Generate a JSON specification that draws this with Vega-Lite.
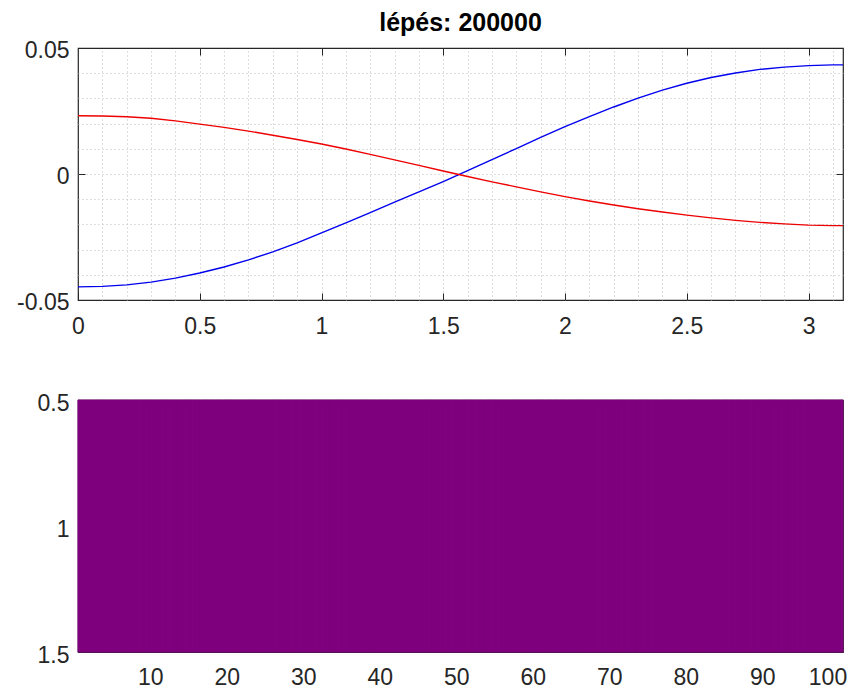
{
  "$schema": "https://vega.github.io/schema/vega-lite/v6.json",
  "background": "white",
  "padding": {"left": 15, "top": 10, "right": 0, "bottom": 0},
  "spacing": 100,
  "bounds": "flush",
  "config": {
    "font": "Liberation Sans",
    "view": {"stroke": "#262626", "strokeWidth": 1.2},
    "axis": {
      "labelFont": "Liberation Sans",
      "labelFontSize": 23,
      "labelColor": "#262626",
      "tickColor": "#262626",
      "tickWidth": 1,
      "domain": false,
      "grid": false
    }
  },
  "vconcat": [
    {
      "width": 765,
      "height": 252,
      "title": {
        "text": "lépés: 200000",
        "font": "Liberation Sans",
        "fontSize": 25,
        "fontWeight": "bold",
        "color": "#000000",
        "anchor": "middle",
        "baseline": "alphabetic",
        "offset": -17
      },
      "data": {
        "values": [
          {"x": 0, "a": -0.0448, "b": 0.0231},
          {"x": 0.1, "a": -0.0446, "b": 0.0230},
          {"x": 0.2, "a": -0.0440, "b": 0.0227},
          {"x": 0.3, "a": -0.0429, "b": 0.0221},
          {"x": 0.4, "a": -0.0413, "b": 0.0211},
          {"x": 0.5, "a": -0.0393, "b": 0.0198},
          {"x": 0.6, "a": -0.0369, "b": 0.0185},
          {"x": 0.7, "a": -0.0341, "b": 0.0170},
          {"x": 0.8, "a": -0.0309, "b": 0.0154},
          {"x": 0.9, "a": -0.0273, "b": 0.0137},
          {"x": 1.0, "a": -0.0234, "b": 0.0119},
          {"x": 1.1, "a": -0.0194, "b": 0.0099},
          {"x": 1.2, "a": -0.0153, "b": 0.0078},
          {"x": 1.3, "a": -0.0112, "b": 0.0056},
          {"x": 1.4, "a": -0.0071, "b": 0.0034},
          {"x": 1.5, "a": -0.0030, "b": 0.0012},
          {"x": 1.6, "a": 0.0013, "b": -0.0010},
          {"x": 1.7, "a": 0.0057, "b": -0.0031},
          {"x": 1.8, "a": 0.0101, "b": -0.0051},
          {"x": 1.9, "a": 0.0145, "b": -0.0071},
          {"x": 2.0, "a": 0.0188, "b": -0.0090},
          {"x": 2.1, "a": 0.0228, "b": -0.0107},
          {"x": 2.2, "a": 0.0266, "b": -0.0123},
          {"x": 2.3, "a": 0.0301, "b": -0.0138},
          {"x": 2.4, "a": 0.0333, "b": -0.0151},
          {"x": 2.5, "a": 0.0360, "b": -0.0163},
          {"x": 2.6, "a": 0.0383, "b": -0.0174},
          {"x": 2.7, "a": 0.0401, "b": -0.0184},
          {"x": 2.8, "a": 0.0415, "b": -0.0192},
          {"x": 2.9, "a": 0.0424, "b": -0.0198},
          {"x": 3.0, "a": 0.0430, "b": -0.0203},
          {"x": 3.1, "a": 0.0433, "b": -0.0205},
          {"x": 3.1416, "a": 0.0433, "b": -0.0205}
        ]
      },
      "transform": [{"fold": ["a", "b"], "as": ["series", "y"]}],
      "resolve": {"axis": {"x": "independent", "y": "independent"}},
      "layer": [
        {
          "mark": {"type": "line", "opacity": 0},
          "encoding": {
            "x": {
              "field": "x", "type": "quantitative",
              "scale": {"domain": [0, 3.1416], "nice": false, "zero": false},
              "axis": {
                "orient": "top", "title": null, "labels": false, "ticks": false, "domain": false,
                "minExtent": 0, "maxExtent": 0,
                "grid": true, "gridColor": "#bdbdbd", "gridDash": [1, 3], "gridWidth": 1,
                "values": [0.1, 0.2, 0.3, 0.4, 0.5, 0.6, 0.7, 0.8, 0.9, 1.0, 1.1, 1.2, 1.3, 1.4, 1.5, 1.6, 1.7, 1.8, 1.9, 2.0, 2.1, 2.2, 2.3, 2.4, 2.5, 2.6, 2.7, 2.8, 2.9, 3.0, 3.1]
              }
            },
            "y": {
              "field": "y", "type": "quantitative",
              "scale": {"domain": [-0.05, 0.05], "nice": false, "zero": false},
              "axis": {
                "orient": "right", "title": null, "labels": false, "ticks": false, "domain": false,
                "minExtent": 0, "maxExtent": 0,
                "grid": true, "gridColor": "#bdbdbd", "gridDash": [1, 3], "gridWidth": 1,
                "values": [-0.04, -0.03, -0.02, -0.01, 0, 0.01, 0.02, 0.03, 0.04]
              }
            },
            "detail": {"field": "series"}
          }
        },
        {
          "mark": {"type": "line", "opacity": 0},
          "encoding": {
            "x": {
              "field": "x", "type": "quantitative",
              "axis": {
                "orient": "top", "title": null, "labels": false, "domain": false,
                "minExtent": 0, "maxExtent": 0, "grid": false,
                "tickSize": -7, "values": [0.5, 1, 1.5, 2, 2.5, 3]
              }
            },
            "y": {
              "field": "y", "type": "quantitative",
              "axis": {
                "orient": "right", "title": null, "labels": false, "domain": false,
                "minExtent": 0, "maxExtent": 0, "grid": false,
                "tickSize": -7, "values": [0]
              }
            },
            "detail": {"field": "series"}
          }
        },
        {
          "mark": {"type": "line", "strokeWidth": 1.4},
          "encoding": {
            "x": {
              "field": "x", "type": "quantitative",
              "axis": {
                "orient": "bottom", "title": null, "values": [0, 0.5, 1, 1.5, 2, 2.5, 3],
                "labelExpr": "'' + datum.value", "tickSize": -7, "labelPadding": 22,
                "labelFlush": false
              }
            },
            "y": {
              "field": "y", "type": "quantitative",
              "axis": {
                "orient": "left", "title": null, "values": [-0.05, 0, 0.05],
                "labelExpr": "datum.value < 0 ? '-0.05' : (datum.value > 0 ? '0.05' : '0')",
                "tickSize": -7, "labelPadding": 16, "labelFlush": false, "labelOffset": 2
              }
            },
            "color": {
              "field": "series", "type": "nominal",
              "scale": {"domain": ["a", "b"], "range": ["#0000ee", "#ee0000"]},
              "legend": null
            }
          }
        }
      ]
    },
    {
      "width": 765,
      "height": 252,
      "data": {
        "values": [
          {"c": 1, "v": 1}, {"c": 2, "v": 1}, {"c": 3, "v": 1}, {"c": 4, "v": 1}, {"c": 5, "v": 1},
          {"c": 6, "v": 1}, {"c": 7, "v": 1}, {"c": 8, "v": 1}, {"c": 9, "v": 1}, {"c": 10, "v": 1},
          {"c": 11, "v": 1}, {"c": 12, "v": 1}, {"c": 13, "v": 1}, {"c": 14, "v": 1}, {"c": 15, "v": 1},
          {"c": 16, "v": 1}, {"c": 17, "v": 1}, {"c": 18, "v": 1}, {"c": 19, "v": 1}, {"c": 20, "v": 1},
          {"c": 21, "v": 1}, {"c": 22, "v": 1}, {"c": 23, "v": 1}, {"c": 24, "v": 1}, {"c": 25, "v": 1},
          {"c": 26, "v": 1}, {"c": 27, "v": 1}, {"c": 28, "v": 1}, {"c": 29, "v": 1}, {"c": 30, "v": 1},
          {"c": 31, "v": 1}, {"c": 32, "v": 1}, {"c": 33, "v": 1}, {"c": 34, "v": 1}, {"c": 35, "v": 1},
          {"c": 36, "v": 1}, {"c": 37, "v": 1}, {"c": 38, "v": 1}, {"c": 39, "v": 1}, {"c": 40, "v": 1},
          {"c": 41, "v": 1}, {"c": 42, "v": 1}, {"c": 43, "v": 1}, {"c": 44, "v": 1}, {"c": 45, "v": 1},
          {"c": 46, "v": 1}, {"c": 47, "v": 1}, {"c": 48, "v": 1}, {"c": 49, "v": 1}, {"c": 50, "v": 1},
          {"c": 51, "v": 1}, {"c": 52, "v": 1}, {"c": 53, "v": 1}, {"c": 54, "v": 1}, {"c": 55, "v": 1},
          {"c": 56, "v": 1}, {"c": 57, "v": 1}, {"c": 58, "v": 1}, {"c": 59, "v": 1}, {"c": 60, "v": 1},
          {"c": 61, "v": 1}, {"c": 62, "v": 1}, {"c": 63, "v": 1}, {"c": 64, "v": 1}, {"c": 65, "v": 1},
          {"c": 66, "v": 1}, {"c": 67, "v": 1}, {"c": 68, "v": 1}, {"c": 69, "v": 1}, {"c": 70, "v": 1},
          {"c": 71, "v": 1}, {"c": 72, "v": 1}, {"c": 73, "v": 1}, {"c": 74, "v": 1}, {"c": 75, "v": 1},
          {"c": 76, "v": 1}, {"c": 77, "v": 1}, {"c": 78, "v": 1}, {"c": 79, "v": 1}, {"c": 80, "v": 1},
          {"c": 81, "v": 1}, {"c": 82, "v": 1}, {"c": 83, "v": 1}, {"c": 84, "v": 1}, {"c": 85, "v": 1},
          {"c": 86, "v": 1}, {"c": 87, "v": 1}, {"c": 88, "v": 1}, {"c": 89, "v": 1}, {"c": 90, "v": 1},
          {"c": 91, "v": 1}, {"c": 92, "v": 1}, {"c": 93, "v": 1}, {"c": 94, "v": 1}, {"c": 95, "v": 1},
          {"c": 96, "v": 1}, {"c": 97, "v": 1}, {"c": 98, "v": 1}, {"c": 99, "v": 1}, {"c": 100, "v": 1}
        ]
      },
      "mark": {"type": "rect", "strokeWidth": 1},
      "encoding": {
        "x": {
          "field": "c", "type": "ordinal",
          "scale": {"paddingInner": 0, "paddingOuter": 0},
          "axis": {
            "orient": "bottom", "title": null, "values": [10, 20, 30, 40, 50, 60, 70, 80, 90, 100],
            "labelAngle": 0, "ticks": false, "labelPadding": 14,
            "labelFlush": 10, "labelFlushOffset": 8
          }
        },
        "y": {
          "datum": 0.5, "type": "quantitative",
          "scale": {"domain": [0.5, 1.5], "reverse": true, "nice": false, "zero": false},
          "axis": {
            "orient": "left", "title": null, "values": [0.5, 1, 1.5],
            "labelExpr": "'' + datum.value", "ticks": false, "labelPadding": 9,
            "labelFlush": false, "labelOffset": 3
          }
        },
        "y2": {"datum": 1.5},
        "color": {
          "field": "v", "type": "quantitative",
          "scale": {"range": ["#7e007c", "#7e007c"]}, "legend": null
        },
        "stroke": {
          "field": "v", "type": "quantitative",
          "scale": {"range": ["#7e007c", "#7e007c"]}, "legend": null
        }
      }
    }
  ]
}
